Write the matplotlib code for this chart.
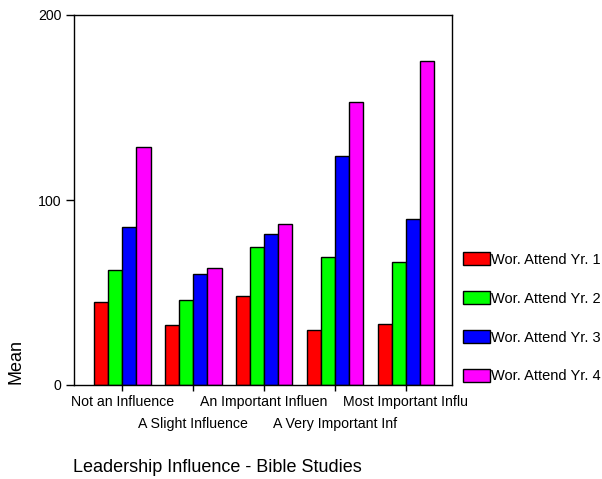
import numpy as np
import matplotlib.pyplot as plt

plt.rcParams['font.family'] = ['Liberation Sans', 'DejaVu Sans']

categories = ['Not an Influence', 'A Slight Influence', 'An Important Influen',
              'A Very Important Inf', 'Most Important Influ']
series = ['Wor. Attend Yr. 1', 'Wor. Attend Yr. 2', 'Wor. Attend Yr. 3', 'Wor. Attend Yr. 4']
yr1 = [44.7, 32.6, 48.3, 29.9, 32.8]
yr2 = [62.3, 46.1, 74.8, 69.4, 66.7]
yr3 = [85.6, 60.0, 81.4, 123.8, 89.7]
yr4 = [128.8, 63.1, 87.2, 152.8, 175.3]
colors = ['#ff0000', '#00ff00', '#0000ff', '#ff00ff']

fig = plt.figure(figsize=(6.02, 4.79), dpi=100)
ax = fig.add_axes([74 / 602, 1 - 385 / 479, 378 / 602, 370 / 479])

x = np.arange(len(categories))
w = 0.2
for i, (vals, c, name) in enumerate(zip([yr1, yr2, yr3, yr4], colors, series)):
    ax.bar(x + (i - 1.5) * w, vals, w, color=c, edgecolor='black', linewidth=1.0, label=name)

ax.set_xlim(-0.68, 4.65)
ax.set_ylim(0, 200)
ax.set_yticks([0, 100, 200])
ax.set_xticks(x)
ax.set_xticklabels(categories, fontsize=10.2)
# alternate labels on two rows
for i, t in enumerate(ax.xaxis.get_major_ticks()):
    t.set_pad(3 if i % 2 == 0 else 19)
ax.tick_params(axis='y', labelsize=10.2, length=6, width=1, pad=3)
ax.tick_params(axis='x', length=4, width=1)
for s in ax.spines.values():
    s.set_linewidth(1)

fig.text(16.5 / 602, 1 - 362 / 479, 'Mean', rotation=90, fontsize=13, ha='center', va='center')
fig.text(73 / 602, 1 - 468 / 479, 'Leadership Influence - Bible Studies', fontsize=13,
         ha='left', va='center')

fs = 10.5
fpx = fs * 100 / 72
fig.legend(loc='upper left', bbox_to_anchor=(463 / 602, 1 - 252 / 479), frameon=False,
           fontsize=fs, borderaxespad=0, borderpad=0, handlelength=27 / fpx,
           handleheight=15 / fpx, handletextpad=0.05, labelspacing=(39.3 - 15) / fpx)

fig.savefig('out.png', dpi=100)
